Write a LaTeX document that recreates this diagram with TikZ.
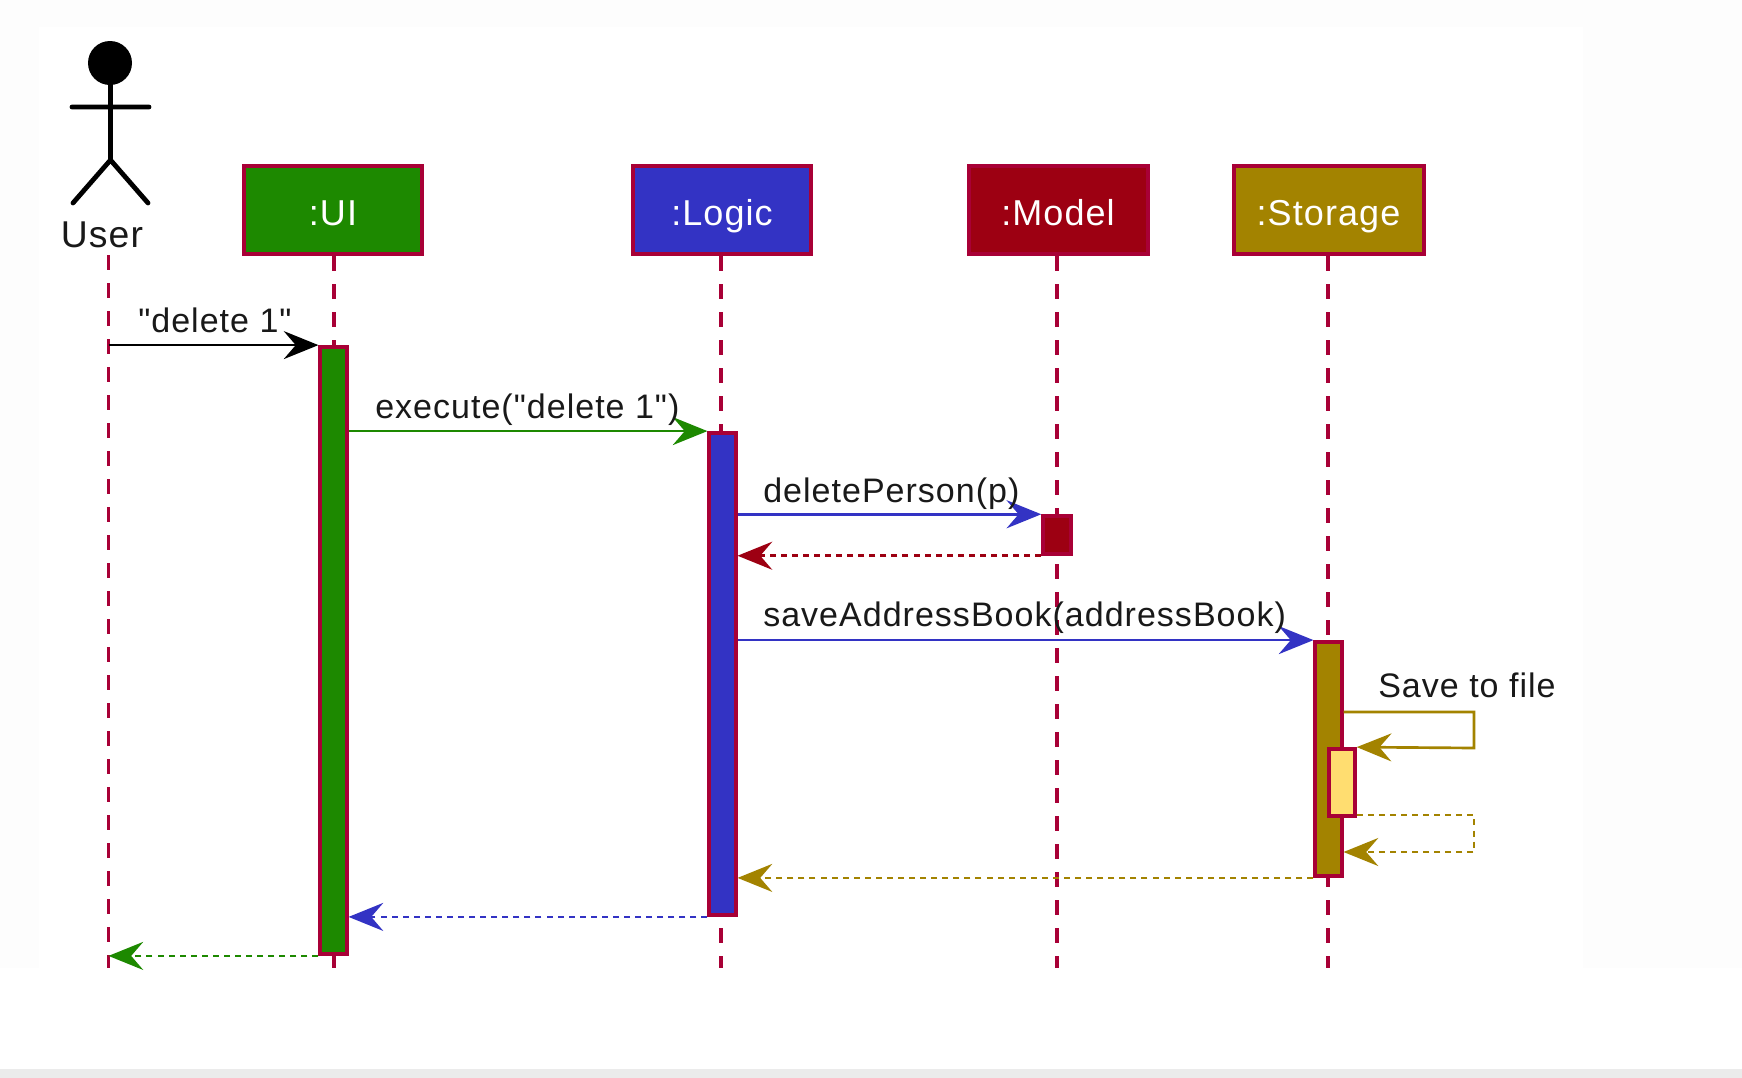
\documentclass[tikz,border=0pt]{standalone}
\usepackage{fontspec}
\setmainfont[LetterSpace=3,Ligatures=TeXOff]{Liberation Sans}
\usepackage{xcolor}
\usepackage{tikz}
\usetikzlibrary{arrows.meta}
\usetikzlibrary{positioning}
\definecolor{uiGreen}{HTML}{1D8900}
\definecolor{logicBlue}{HTML}{3333C4}
\definecolor{modelRed}{HTML}{9D0012}
\definecolor{storageGold}{HTML}{A38300}
\definecolor{fileYellow}{HTML}{FFDD70}
\definecolor{umlBorder}{HTML}{A80036}
\tikzset{
  headBox/.style={draw=umlBorder,line width=3pt,text=white,inner sep=0pt,minimum height=66pt,font=\fontsize{27}{30}\selectfont,text height=20pt,text depth=0pt},
  actBar/.style={draw=umlBorder,line width=2.6pt,inner sep=0pt,minimum width=20pt},
  lifeLine/.style={draw=umlBorder,line width=2.4pt,dash pattern=on 11pt off 10pt},
  msgLine/.style={line width=2pt,-{Stealth[length=26pt,width=21pt,inset=9pt]}},
  retLine/.style={msgLine,dash pattern=on 4.5pt off 3.8pt},
  msgText/.style={anchor=base west,inner sep=0pt,text=black!90,font=\fontsize{25.5}{30}\selectfont},
}
\begin{document}
\begin{tikzpicture}[x=0.75pt,y=0.75pt,yscale=-1,xscale=1]
\useasboundingbox (0,0) rectangle (1742,1078);

%Shape: Page
\fill [color={rgb, 255:red, 253; green, 253; blue, 253 }] (0,0) rectangle (1742,968);
\fill [white] (39,27) rectangle (1583,968);
\fill [white] (0,968) rectangle (1742,1069);
\fill [color={rgb, 255:red, 235; green, 235; blue, 235 }] (0,1069) rectangle (1742,1078);

%Shape: Actor
\fill (110,63) circle (22);
\draw [line width=3.6pt,line cap=round] (110.5,80) -- (110.5,160) (72,107) -- (149,107) (73,203) -- (110.5,160) -- (148,203);

% Text Node
\draw (102,247) node (userLabel) [anchor=base,inner sep=0pt,text=black!90,font=\fontsize{28}{30}\selectfont] {User};

% Head Nodes
\draw (333,210) node (uiBox) [headBox,fill=uiGreen,minimum width=133.5pt] {\raisebox{-1.5pt}{:UI}};
\draw (722,210) node (logicBox) [headBox,fill=logicBlue,minimum width=133.5pt] {\raisebox{-1.5pt}{:Logic}};
\draw (1058,210) node (modelBox) [headBox,fill=modelRed,minimum width=134.25pt] {\raisebox{-1.5pt}{:Model}};
\draw (1328.5,210) node (storageBox) [headBox,fill=storageGold,minimum width=142.5pt] {\raisebox{-1.5pt}{:Storage}};

%Straight Lines
\coordinate (userTop) at (108.5,255);
\coordinate (userEnd) at (108.5,968);
\coordinate (uiEnd) at (334,968);
\coordinate (logicEnd) at (721,968);
\coordinate (modelEnd) at (1057,968);
\coordinate (storageEnd) at (1328,968);
\draw [lifeLine] (userTop) -- (userEnd);
\draw [lifeLine] (uiBox.south -| uiEnd) -- (uiEnd);
\draw [lifeLine] (logicBox.south -| logicEnd) -- (logicEnd);
\draw [lifeLine] (modelBox.south -| modelEnd) -- (modelEnd);
\draw [lifeLine] (storageBox.south -| storageEnd) -- (storageEnd);

% Activation Nodes
\draw (333.5,650.5) node (uiBar) [actBar,fill=uiGreen,minimum height=455.5pt] {};
\draw (722.5,674) node (logicBar) [actBar,fill=logicBlue,minimum height=361.75pt] {};
\draw (1057,535) node (modelBar) [actBar,fill=modelRed,minimum width=21pt,minimum height=28.5pt] {};
\draw (1328.5,759) node (storageBar) [actBar,fill=storageGold,minimum height=175.75pt] {};
\draw (1342,782.5) node (fileBar) [actBar,fill=fileYellow,minimum width=19.5pt,minimum height=50.5pt] {};

%Straight Lines
\coordinate (selfOut) at (1474,712);
\coordinate (selfBack) at (1474,748);
\coordinate (retOut) at (1474,815);
\coordinate (retBack) at (1474,852);
\draw [msgLine,color=black] (userEnd |- uiBar.north) -- (uiBar.north west);
\draw [msgLine,color=uiGreen] (uiBar.east |- logicBar.north) -- (logicBar.north west);
\draw [msgLine,color=logicBlue] (logicBar.east |- modelBar.north) -- (modelBar.north west);
\draw [retLine,color=modelRed] (modelBar.south west) -- (logicBar.east |- modelBar.south);
\draw [msgLine,color=logicBlue] (logicBar.east |- storageBar.north) -- (storageBar.north west);
\draw [msgLine,color=storageGold] (storageBar.east |- selfOut) -- (selfOut) -- (selfBack) -- (fileBar.north east);
\draw [retLine,color=storageGold] (fileBar.east |- retOut) -- (retOut) -- (retBack) -- (storageBar.east |- retBack);
\draw [retLine,color=storageGold] (storageBar.south west) -- (logicBar.east |- storageBar.south);
\draw [retLine,color=logicBlue] (logicBar.south west) -- (uiBar.east |- logicBar.south);
\draw [retLine,color=uiGreen] (uiBar.south west) -- (userEnd |- uiBar.south);

% Text Node
\draw (138,332) node (deleteText) [msgText] {"delete 1"};
% Text Node
\draw (375,418) node (executeText) [msgText] {execute("delete 1")};
% Text Node
\draw (763,502) node (deletePersonText) [msgText] {deletePerson(p)};
% Text Node
\draw (763,626) node (saveText) [msgText] {saveAddressBook(addressBook)};
% Text Node
\draw (1378,697) node (fileText) [msgText] {Save to file};

\end{tikzpicture}
\end{document}
